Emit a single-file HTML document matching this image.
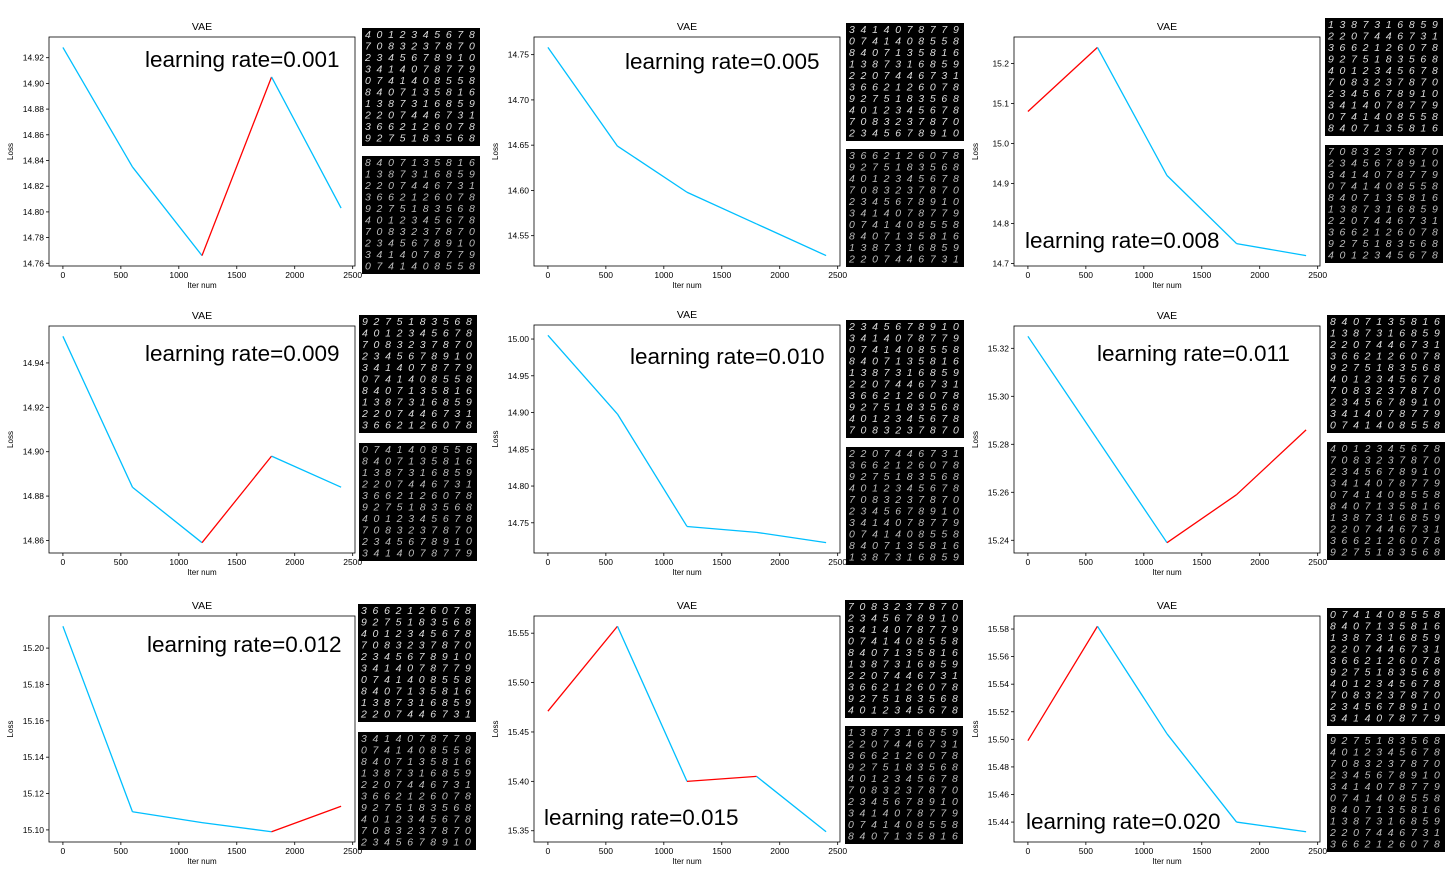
<!DOCTYPE html>
<html><head><meta charset="utf-8">
<style>
html,body{margin:0;padding:0;background:#fff;}
svg{display:block;font-family:"Liberation Sans",sans-serif;}
</style></head>
<body>
<svg id="fig" width="1446" height="875" viewBox="0 0 1446 875" xmlns="http://www.w3.org/2000/svg"></svg>
<script>
const iters = [0, 600, 1200, 1800, 2400];
const labels = ["learning rate=0.001","learning rate=0.005","learning rate=0.008","learning rate=0.009","learning rate=0.010","learning rate=0.011","learning rate=0.012","learning rate=0.015","learning rate=0.020"];
const loss001 = [14.928, 14.835, 14.766, 14.905, 14.803];
const loss005 = [14.758, 14.649, 14.598, 14.563, 14.528];
const loss008 = [15.08, 15.24, 14.92, 14.75, 14.72];
const loss009 = [14.952, 14.884, 14.859, 14.898, 14.884];
const loss010 = [15.005, 14.898, 14.745, 14.737, 14.723];
const loss011 = [15.325, 15.282, 15.239, 15.259, 15.286];
const loss012 = [15.212, 15.110, 15.104, 15.099, 15.113];
const loss015 = [15.471, 15.557, 15.400, 15.405, 15.349];
const loss020 = [15.499, 15.582, 15.504, 15.440, 15.433];
const xTicks = [0, 500, 1000, 1500, 2000, 2500];
const yTicks001 = [14.76,14.78,14.80,14.82,14.84,14.86,14.88,14.90,14.92];
const yTicks005 = [14.55,14.60,14.65,14.70,14.75];
const yTicks008 = [14.7,14.8,14.9,15.0,15.1,15.2];
const yTicks009 = [14.86,14.88,14.90,14.92,14.94];
const yTicks010 = [14.75,14.80,14.85,14.90,14.95,15.00];
const yTicks011 = [15.24,15.26,15.28,15.30,15.32];
const yTicks012 = [15.10,15.12,15.14,15.16,15.18,15.20];
const yTicks015 = [15.35,15.40,15.45,15.50,15.55];
const yTicks020 = [15.44,15.46,15.48,15.50,15.52,15.54,15.56,15.58];

const series = [loss001,loss005,loss008,loss009,loss010,loss011,loss012,loss015,loss020];
const yTickSets = [yTicks001,yTicks005,yTicks008,yTicks009,yTicks010,yTicks011,yTicks012,yTicks015,yTicks020];
const decimals = [2,2,1,2,2,2,2,2,2];
// layout
const boxes = [
 {l:49,t:37,r:355,b:266, lx:145,ly:67, imgs:[[362,28],[362,156]]},
 {l:534,t:37,r:840,b:266, lx:625,ly:69, imgs:[[846,23],[846,149]]},
 {l:1014,t:37,r:1320,b:266, lx:1025,ly:248, imgs:[[1325,18],[1325,145]]},
 {l:49,t:326,r:355,b:553, lx:145,ly:361, imgs:[[359,315],[359,443]]},
 {l:534,t:325,r:840,b:553, lx:630,ly:364, imgs:[[846,320],[846,447]]},
 {l:1014,t:326,r:1320,b:553, lx:1097,ly:361, imgs:[[1327,315],[1327,442]]},
 {l:49,t:616,r:355,b:842, lx:147,ly:652, imgs:[[358,604],[358,732]]},
 {l:534,t:616,r:840,b:842, lx:544,ly:825, imgs:[[845,600],[845,726]]},
 {l:1014,t:616,r:1320,b:842, lx:1026,ly:829, imgs:[[1327,608],[1327,734]]}
];
const NS="http://www.w3.org/2000/svg";
const svg=document.getElementById('fig');
function mk(tag,attrs,parent){const e=document.createElementNS(NS,tag);for(const k in attrs)e.setAttribute(k,attrs[k]);(parent||svg).appendChild(e);return e;}
const digitRows=["4012345678","7083237870","2345678910","3414078779","0741408558","8407135816","1387316859","2207446731","3662126078","9275183568"];

series.forEach((vals,i)=>{
  const B=boxes[i];
  const g=mk('g',{});
  
  
  const xmin=0,xmax=2400,xpad=(xmax-xmin)*0.05;
  const xs=v=>B.l+(v-(xmin-xpad))/((xmax+xpad)-(xmin-xpad))*(B.r-B.l);
  const ymin=Math.min(...vals),ymax=Math.max(...vals),ypad=(ymax-ymin)*0.05;
  const ys=v=>B.b-(v-(ymin-ypad))/((ymax+ypad)-(ymin-ypad))*(B.b-B.t);
  // ticks
  xTicks.forEach(t=>{const x=xs(t);
    const tl=mk('line',{x1:x,x2:x,y1:B.b,y2:B.b+3,stroke:'#000','stroke-width':0.8},g);
    
    const tx=mk('text',{x:x,y:B.b+12,'font-size':8.5,'text-anchor':'middle',fill:'#000'},g);tx.textContent=t;
    });
  yTickSets[i].forEach(t=>{const y=ys(t); if(y<B.t-1||y>B.b+1)return;
    const tl=mk('line',{x1:B.l-3,x2:B.l,y1:y,y2:y,stroke:'#000','stroke-width':0.8},g);
    
    const tx=mk('text',{x:B.l-5,y:y+3,'font-size':8.5,'text-anchor':'end',fill:'#000'},g);tx.textContent=t.toFixed(decimals[i]);
    });
  // lines
  for(let k=0;k<vals.length-1;k++){
    const seg=mk('line',{x1:xs(iters[k]),y1:ys(vals[k]),x2:xs(iters[k+1]),y2:ys(vals[k+1]),stroke:vals[k+1]>vals[k]?'#ff0000':'#00bfff','stroke-width':1.3},g);
    
  }
  const box=mk('rect',{x:B.l,y:B.t,width:B.r-B.l,height:B.b-B.t,fill:'none',stroke:'#000','stroke-width':0.8},g);
  
  const cx=(B.l+B.r)/2;
  const ti=mk('text',{x:cx,y:B.t-7,'font-size':10.5,'text-anchor':'middle'},g);ti.textContent='VAE';
  
  const xl=mk('text',{x:cx,y:B.b+22,'font-size':8,'text-anchor':'middle'},g);xl.textContent='Iter num';
  
  const yl=mk('text',{x:0,y:0,'font-size':8,'text-anchor':'middle',transform:`translate(${B.l-36},${(B.t+B.b)/2}) rotate(-90)`},g);yl.textContent='Loss';
  
  const lr=mk('text',{x:B.lx,y:B.ly,'font-size':22.5},g);lr.textContent=labels[i];
  
  B.imgs.forEach((p,j)=>{
    const r=mk('rect',{x:p[0],y:p[1],width:118,height:118,fill:'#000'},g);
    
    for(let row=0;row<10;row++){
      const s=(digitRows[(row+i*3+j*5)%10]);
      const t=mk('text',{x:p[0]+3,y:p[1]+10+row*11.5,'font-size':10.5,fill:j==0?'#ddd':'#bbb','font-style':'italic','letter-spacing':'2.2','textLength':112},g);
      t.textContent=s;
      
    }
  });
});
</script>
</body></html>
